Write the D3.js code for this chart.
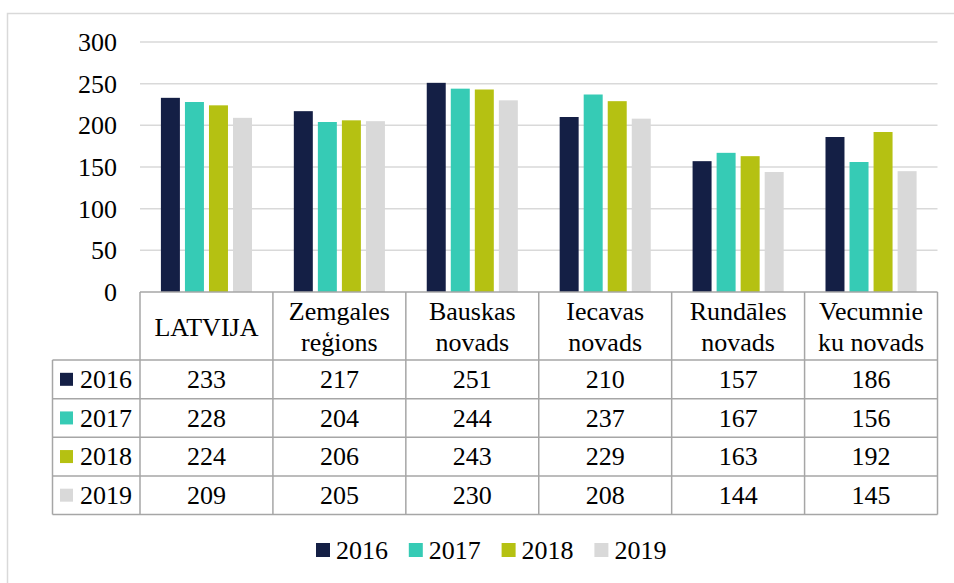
<!DOCTYPE html>
<html>
<head>
<meta charset="utf-8">
<script src="https://cdn.jsdelivr.net/npm/d3@7"></script>
<style>
  html, body { margin: 0; padding: 0; background: #fff; }
  svg { display: block; font-family: "Liberation Serif", "Times New Roman", serif; }
</style>
</head>
<body>
<svg id="chart" width="954" height="583"></svg>
<script>
// Regions (table header labels, split across lines)
const categories = ["LATVIJA", "Zemgales reģions", "Bauskas novads", "Iecavas novads", "Rundāles novads", "Vecumnieku novads"];
const categoryLines = [["LATVIJA"], ["Zemgales", "reģions"], ["Bauskas", "novads"], ["Iecavas", "novads"], ["Rundāles", "novads"], ["Vecumnie", "ku novads"]];
const years = ["2016", "2017", "2018", "2019"];
const values2016 = [233, 217, 251, 210, 157, 186];
const values2017 = [228, 204, 244, 237, 167, 156];
const values2018 = [224, 206, 243, 229, 163, 192];
const values2019 = [209, 205, 230, 208, 144, 145];
const yTicks = [0, 50, 100, 150, 200, 250, 300];
const colors = ["#141f45", "#36cbb5", "#b5c112", "#d9d9d9"];

const seriesValues = [values2016, values2017, values2018, values2019];
const series = years.map((y, i) => ({ year: y, color: colors[i], values: seriesValues[i] }));

const svg = d3.select("#chart");
const fontSize = 26;
const tableLine = "#a6a6a6";

// Outer frame
svg.append("path")
  .attr("d", "M7.5,583 V13.5 H954")
  .attr("fill", "none").attr("stroke", "#d9d9d9").attr("stroke-width", 1.5);

const x0 = d3.scaleBand().domain(categories).range([140, 937.5]).paddingInner(0).paddingOuter(0);
const x1 = d3.scaleBand().domain(years).range([0, x0.bandwidth()]).paddingInner(0.21).paddingOuter(0.87);
const y = d3.scaleLinear().domain([0, 300]).range([292, 42]);

// Gridlines
svg.append("g").selectAll("line").data(yTicks.filter(t => t > 0)).join("line")
  .attr("x1", 140).attr("x2", 937.5)
  .attr("y1", d => y(d)).attr("y2", d => y(d))
  .attr("stroke", "#d9d9d9").attr("stroke-width", 1.5);

// Y axis labels
const yAxis = d3.axisLeft(y).tickValues(yTicks).tickSize(0).tickPadding(0);
const yg = svg.append("g").attr("transform", "translate(117,0)").call(yAxis);
yg.select(".domain").remove();
yg.selectAll("text").attr("font-size", fontSize).attr("font-family", "Liberation Serif, Times New Roman, serif").attr("fill", "#000").attr("dy", "0.33em");

// Bars
const groups = svg.append("g").selectAll("g").data(categories).join("g")
  .attr("transform", d => `translate(${x0(d)},0)`);
groups.selectAll("rect")
  .data((c, ci) => series.map(s => ({ year: s.year, color: s.color, v: s.values[ci] })))
  .join("rect")
  .attr("x", d => x1(d.year))
  .attr("width", x1.bandwidth())
  .attr("y", d => y(d.v))
  .attr("height", d => y(0) - y(d.v))
  .attr("fill", d => d.color);

// Data table
const tableLeft = 52.5;
const tableRight = 937.5;
const headerTop = y(0);
const headerBottom = 360;
const rowH = (514.5 - headerBottom) / years.length;
const tbl = svg.append("g");

// horizontal rules
tbl.append("line").attr("x1", 140).attr("x2", tableRight).attr("y1", headerTop).attr("y2", headerTop)
  .attr("stroke", tableLine).attr("stroke-width", 1.5);
d3.range(years.length + 1).forEach(i => {
  const yy = headerBottom + i * rowH;
  tbl.append("line").attr("x1", tableLeft).attr("x2", tableRight).attr("y1", yy).attr("y2", yy)
    .attr("stroke", tableLine).attr("stroke-width", 1.5);
});
// vertical rules
tbl.append("line").attr("x1", tableLeft).attr("x2", tableLeft).attr("y1", headerBottom).attr("y2", headerBottom + years.length * rowH)
  .attr("stroke", tableLine).attr("stroke-width", 1.5);
categories.concat(["__end"]).forEach((c, i) => {
  const xx = i < categories.length ? x0(c) : tableRight;
  tbl.append("line").attr("x1", xx).attr("x2", xx).attr("y1", headerTop).attr("y2", headerBottom + years.length * rowH)
    .attr("stroke", tableLine).attr("stroke-width", 1.5);
});

// header labels
categories.forEach((c, i) => {
  const lines = categoryLines[i];
  const cx = x0(c) + x0.bandwidth() / 2;
  const cy = (headerTop + headerBottom) / 2 + 1;
  const lh = 31;
  lines.forEach((t, j) => {
    tbl.append("text").attr("x", cx).attr("y", cy + (j - (lines.length - 1) / 2) * lh)
      .attr("dy", "0.33em").attr("text-anchor", "middle").attr("font-size", fontSize).attr("fill", "#000").text(t);
  });
});

// rows
series.forEach((s, r) => {
  const cy = headerBottom + (r + 0.5) * rowH;
  tbl.append("rect").attr("x", 60).attr("y", cy - 6.5).attr("width", 13).attr("height", 13).attr("fill", s.color);
  tbl.append("text").attr("x", 80).attr("y", cy).attr("dy", "0.33em").attr("font-size", fontSize).attr("fill", "#000").text(s.year);
  categories.forEach((c, ci) => {
    tbl.append("text").attr("x", x0(c) + x0.bandwidth() / 2).attr("y", cy).attr("dy", "0.33em")
      .attr("text-anchor", "middle").attr("font-size", fontSize).attr("fill", "#000").text(s.values[ci]);
  });
});

// Legend
const legend = svg.append("g").attr("transform", "translate(316,550)");
const li = legend.selectAll("g").data(series).join("g").attr("transform", (d, i) => `translate(${i * 92.8},0)`);
li.append("rect").attr("x", 0).attr("y", -7).attr("width", 14).attr("height", 14).attr("fill", d => d.color);
li.append("text").attr("x", 20).attr("y", 0).attr("dy", "0.33em").attr("font-size", fontSize).attr("fill", "#000").text(d => d.year);
</script>
</body>
</html>
